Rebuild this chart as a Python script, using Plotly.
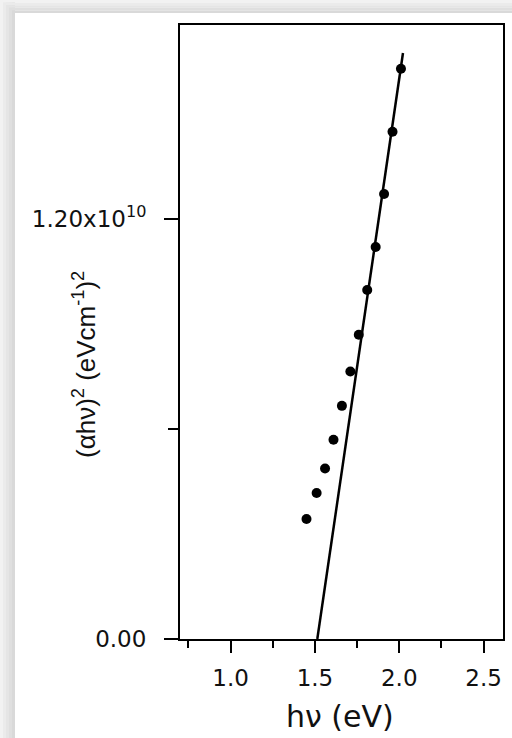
import plotly.graph_objects as go

# Data
hv = [1.45, 1.51, 1.56, 1.61, 1.66, 1.71, 1.76, 1.81, 1.86, 1.91, 1.96, 2.01]
ahv2 = [3.43e9, 4.17e9, 4.87e9, 5.69e9, 6.66e9, 7.64e9, 8.69e9, 9.97e9,
        11.2e9, 12.71e9, 14.49e9, 16.29e9]
fit_x = [1.514, 2.022]
fit_y = [0.0, 1.674e10]

x_tickvals = [1.0, 1.5, 2.0, 2.5]
x_ticktext = ["1.0", "1.5", "2.0", "2.5"]
y_tickvals = [0.0, 1.2e10]
y_ticktext = ["0.00", "1.20x10<sup>10</sup>"]

FONT = "Liberation Sans, Arial, sans-serif"
WIDE = "DejaVu Sans, Verdana, sans-serif"
W, H = 512, 738
L, R, T, B = 180, 9, 25, 99
PW, PH = W - L - R, H - T - B


def px_x(p):
    return (p - L) / PW


def px_y(p):
    return (H - B - p) / PH


fig = go.Figure()
fig.add_trace(go.Scatter(x=fit_x, y=fit_y, mode="lines",
                         line=dict(color="black", width=2.5),
                         showlegend=False, hoverinfo="skip"))
fig.add_trace(go.Scatter(x=hv, y=ahv2, mode="markers",
                         marker=dict(color="black", size=10, symbol="circle"),
                         showlegend=False))

# soft grey border (shadow) on left and top of the page
shapes = []
greys = ["#f2f2f2", "#ebebeb", "#e5e5e5", "#dfdfdf", "#d9d9d9"]
for i, g in enumerate(greys):
    shapes.append(dict(type="rect", xref="paper", yref="paper",
                       x0=px_x(i * 3), x1=px_x(i * 3 + 3),
                       y0=px_y(H + 5), y1=px_y(-5),
                       fillcolor=g, line=dict(width=0), layer="below"))
for i, g in enumerate(greys):
    shapes.append(dict(type="rect", xref="paper", yref="paper",
                       x0=px_x(i * 3), x1=px_x(W + 5),
                       y0=px_y(i * 2.6 + 2.6), y1=px_y(i * 2.6),
                       fillcolor=g, line=dict(width=0), layer="below"))

fig.update_layout(
    width=W, height=H,
    margin=dict(l=L, r=R, t=T, b=B, autoexpand=False),
    paper_bgcolor="white", plot_bgcolor="white",
    font=dict(family=FONT, color="#111111"),
    shapes=shapes,
    annotations=[
        dict(xref="paper", yref="paper", x=px_x(340), y=px_y(716),
             text="h\u03bd (eV)", showarrow=False,
             font=dict(size=30, family=WIDE, color="#111111"),
             xanchor="center", yanchor="middle"),
        dict(xref="paper", yref="paper", x=px_x(84), y=px_y(365),
             text="(\u03b1h\u03bd)<sup>2</sup> (eVcm<sup>-1</sup>)<sup>2</sup>",
             textangle=-90, showarrow=False,
             font=dict(size=26, family=FONT, color="#111111"),
             xanchor="center", yanchor="middle"),
    ],
)

fig.update_xaxes(
    range=[0.7, 2.615], showgrid=False, zeroline=False,
    showline=True, linecolor="black", linewidth=2, mirror=True,
    ticks="outside", ticklen=12, tickwidth=2, tickcolor="black",
    tickmode="array", tickvals=x_tickvals, ticktext=x_ticktext,
    tickfont=dict(size=23, family=WIDE, color="#111111"),
    ticklabelstandoff=5,
    minor=dict(ticks="outside", ticklen=7, tickwidth=2, tickcolor="black",
               tickmode="linear", tick0=0.75, dtick=0.5, showgrid=False),
)
fig.update_yaxes(
    range=[0, 1.754e10], showgrid=False, zeroline=False,
    showline=True, linecolor="black", linewidth=2, mirror=True,
    ticks="outside", ticklen=14, tickwidth=2, tickcolor="black",
    tickmode="array", tickvals=y_tickvals, ticktext=y_ticktext,
    tickfont=dict(size=23, family=WIDE, color="#111111"),
    ticklabelstandoff=13,
    minor=dict(ticks="outside", ticklen=10, tickwidth=2, tickcolor="black",
               tickmode="array", tickvals=[6e9], showgrid=False),
)

fig.write_html(
    "out.html",
    config={"displayModeBar": False},
    post_script="document.documentElement.style.margin='0';"
                "document.body.style.margin='0';"
                "document.documentElement.style.overflow='hidden';"
                "document.body.style.overflow='hidden';",
)
